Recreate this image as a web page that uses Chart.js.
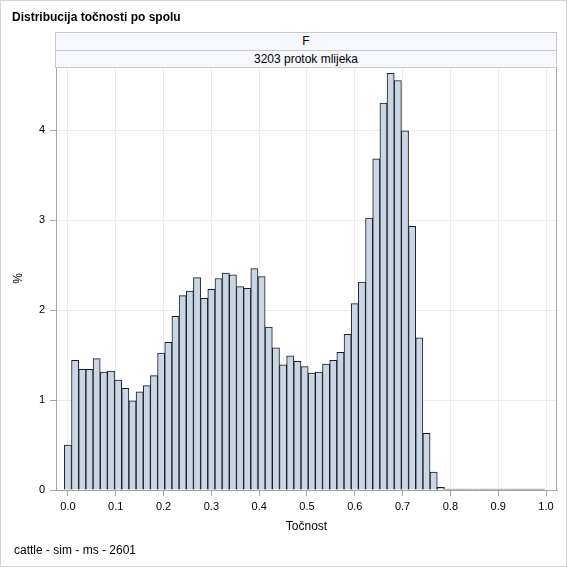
<!DOCTYPE html>
<html>
<head>
<meta charset="utf-8">
<script src="https://cdn.jsdelivr.net/npm/chart.js@4.4.1/dist/chart.umd.min.js"></script>
<style>
    html, body { margin: 0; padding: 0; background: #fff; }
    #wrap { position: relative; width: 567px; height: 567px; box-sizing: border-box; border: 1px solid #d4d4d4; overflow: hidden; font-family: "Liberation Sans", Arial, sans-serif; }
    #chart { position: absolute; left: 0; top: 0; }
    .title { position: absolute; left: 11px; top: 9px; font-size: 12px; font-weight: bold; color: #000; }
    .strip { position: absolute; left: 54px; width: 502px; box-sizing: border-box; border: 1px solid #c8c8c8; background: #f7f8fd; font-size: 12px; color: #000; text-align: center; }
    .footer { position: absolute; left: 13px; top: 542px; font-size: 12px; color: #000; }
</style>
</head>
<body>
<div id="wrap">
    <canvas id="chart" width="567" height="567"></canvas>
    <div class="title">Distribucija točnosti po spolu</div>
    <div class="strip" style="top:31px;height:19px;line-height:17px;">F</div>
    <div class="strip" style="top:49px;height:18px;line-height:16px;">3203 protok mlijeka</div>
    <div class="footer">cattle - sim - ms - 2601</div>
</div>
<script>
// bin centres (bin width 0.015)
const binCenters = [
    0.000, 0.015, 0.030, 0.045, 0.060, 0.075, 0.090, 0.105, 0.120, 0.135,
    0.150, 0.165, 0.180, 0.195, 0.210, 0.225, 0.240, 0.255, 0.270, 0.285,
    0.300, 0.315, 0.330, 0.345, 0.360, 0.375, 0.390, 0.405, 0.420, 0.435,
    0.450, 0.465, 0.480, 0.495, 0.510, 0.525, 0.540, 0.555, 0.570, 0.585,
    0.600, 0.615, 0.630, 0.645, 0.660, 0.675, 0.690, 0.705, 0.720, 0.735,
    0.750, 0.765, 0.780, 0.795, 0.810, 0.825, 0.840, 0.855, 0.870, 0.885,
    0.900, 0.915, 0.930, 0.945, 0.960, 0.975, 0.990
];

// percent per bin
const percents = [
    0.50, 1.44, 1.34, 1.34, 1.46, 1.31, 1.32, 1.22, 1.13, 0.99,
    1.09, 1.16, 1.27, 1.52, 1.64, 1.93, 2.16, 2.21, 2.36, 2.13,
    2.23, 2.35, 2.41, 2.39, 2.26, 2.24, 2.46, 2.37, 1.81, 1.58,
    1.39, 1.49, 1.43, 1.37, 1.30, 1.31, 1.40, 1.44, 1.53, 1.73,
    2.07, 2.31, 3.02, 3.68, 4.30, 4.63, 4.55, 3.99, 2.93, 1.69,
    0.63, 0.20, 0.03, 0.01, 0.01, 0.01, 0.01, 0.01, 0.01, 0.01,
    0.01, 0.01, 0.01, 0.01, 0.01, 0.01, 0.01
];

const xTicks = [0.0, 0.1, 0.2, 0.3, 0.4, 0.5, 0.6, 0.7, 0.8, 0.9, 1.0];
const yTicks = [0, 1, 2, 3, 4];

const tickFont = { family: '"Liberation Sans", Arial, sans-serif', size: 11 };
const titleFont = { family: '"Liberation Sans", Arial, sans-serif', size: 12 };

// draws the top and right edge of the plot frame
const frame = {
    id: 'frame',
    afterDraw(chart) {
        const { ctx, chartArea: a } = chart;
        ctx.save();
        ctx.strokeStyle = '#a6a6a6';
        ctx.lineWidth = 1;
        ctx.beginPath();
        ctx.moveTo(a.left, a.top + 0.5);
        ctx.lineTo(a.right - 0.5, a.top + 0.5);
        ctx.lineTo(a.right - 0.5, a.bottom);
        ctx.stroke();
        ctx.restore();
    }
};

new Chart(document.getElementById('chart'), {
    type: 'bar',
    data: {
        datasets: [{
            data: binCenters.map((c, i) => ({ x: c, y: percents[i] })),
            backgroundColor: '#cad5e5',
            borderColor: '#1a1a1a',
            borderWidth: 1,
            borderSkipped: 'bottom',
            barPercentage: 1,
            categoryPercentage: 1
        }]
    },
    plugins: [frame],
    options: {
        responsive: false,
        animation: false,
        devicePixelRatio: 1,
        layout: { padding: { left: 0, top: 66, right: 11, bottom: 0 } },
        plugins: { legend: { display: false }, tooltip: { enabled: false } },
        scales: {
            x: {
                type: 'linear',
                offset: false,
                min: -0.025,
                max: 1.023,
                afterFit: s => { s.height = 78; },
                afterBuildTicks: s => { s.ticks = xTicks.map(v => ({ value: v })); },
                ticks: { font: tickFont, color: '#000', padding: 4, maxRotation: 0, callback: v => v.toFixed(1) },
                grid: { offset: false, color: '#ebebeb', tickColor: '#a6a6a6', tickLength: 6 },
                border: { color: '#a6a6a6' },
                title: { display: true, text: 'Točnost', font: titleFont, color: '#000', padding: { top: 4, bottom: 34 } }
            },
            y: {
                min: 0,
                max: 4.7,
                afterFit: s => { s.width = 55; },
                afterBuildTicks: s => { s.ticks = yTicks.map(v => ({ value: v })); },
                ticks: { font: tickFont, color: '#000', padding: 5 },
                grid: { color: '#ebebeb', tickColor: '#a6a6a6', tickLength: 6 },
                border: { color: '#a6a6a6' },
                title: { display: true, text: '%', font: titleFont, color: '#000', padding: { top: 10, bottom: 0 } }
            }
        }
    }
});
</script>
</body>
</html>
